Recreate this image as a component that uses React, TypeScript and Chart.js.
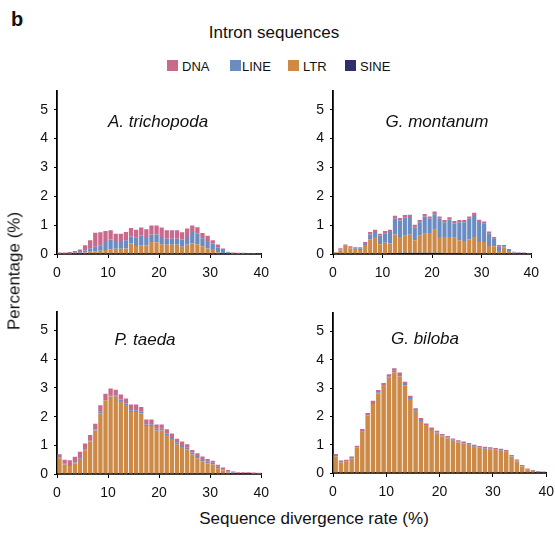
import React, { useEffect, useRef } from "react";
import { Chart, registerables } from "chart.js";

Chart.register(...registerables);

// ---------- data ----------
const BIN_STARTS = [
  0, 1, 2, 3, 4, 5, 6, 7, 8, 9, 10, 11, 12, 13, 14, 15, 16, 17, 18, 19,
  20, 21, 22, 23, 24, 25, 26, 27, 28, 29, 30, 31, 32, 33, 34, 35, 36, 37, 38, 39,
];
const X_TICKS = [0, 10, 20, 30, 40];
const Y_TICKS = [0, 1, 2, 3, 4, 5];
const SERIES_NAMES = ["DNA", "LINE", "LTR", "SINE"];

// A. trichopoda
const TRICHOPODA_DNA = [0.03,0.03,0.04,0.06,0.10,0.18,0.28,0.49,0.45,0.38, 0.32,0.28,0.28,0.28,0.29,0.26,0.28,0.27,0.31,0.31, 0.33,0.29,0.29,0.29,0.25,0.29,0.23,0.23,0.18,0.21, 0.12,0.11,0.05,0.02,0.02,0.02,0.02,0.01,0.01,0.01];
const TRICHOPODA_LINE = [0.01,0.01,0.02,0.02,0.03,0.07,0.12,0.16,0.19,0.28, 0.34,0.24,0.24,0.29,0.25,0.30,0.34,0.29,0.26,0.28, 0.25,0.21,0.21,0.21,0.25,0.27,0.40,0.37,0.28,0.23, 0.19,0.17,0.11,0.04,0.02,0.01,0.01,0.01,0.01,0.01];
const TRICHOPODA_LTR = [0.01,0.01,0.01,0.02,0.03,0.05,0.08,0.09,0.11,0.14, 0.16,0.18,0.18,0.19,0.36,0.28,0.30,0.30,0.42,0.40, 0.34,0.32,0.32,0.32,0.25,0.32,0.36,0.33,0.27,0.19, 0.17,0.05,0.03,0.02,0.01,0.01,0.01,0.01,0.01,0.00];
const TRICHOPODA_SINE = [0,0,0,0,0,0,0,0,0,0, 0,0,0,0,0,0,0,0,0,0, 0,0,0,0,0,0,0,0,0,0, 0,0,0,0,0,0,0,0,0,0];

// G. montanum
const MONTANUM_DNA = [0.02,0.04,0.03,0.04,0.03,0.03,0.04,0.08,0.08,0.07, 0.08,0.08,0.09,0.09,0.09,0.08,0.08,0.08,0.09,0.08, 0.09,0.08,0.08,0.08,0.08,0.08,0.08,0.08,0.08,0.08, 0.08,0.06,0.06,0.06,0.04,0.03,0.02,0.02,0.02,0.01];
const MONTANUM_LINE = [0.00,0.03,0.02,0.03,0.03,0.06,0.07,0.17,0.17,0.29, 0.33,0.40,0.56,0.57,0.63,0.61,0.45,0.47,0.60,0.49, 0.54,0.63,0.51,0.60,0.50,0.62,0.65,0.71,0.76,0.69, 0.63,0.44,0.26,0.15,0.04,0.04,0.02,0.01,0.01,0.01];
const MONTANUM_LTR = [0.05,0.13,0.28,0.20,0.17,0.14,0.31,0.51,0.59,0.34, 0.37,0.33,0.65,0.55,0.59,0.63,0.44,0.59,0.66,0.69, 0.80,0.55,0.56,0.56,0.53,0.45,0.43,0.49,0.59,0.42, 0.42,0.28,0.27,0.10,0.23,0.10,0.04,0.03,0.02,0.01];
const MONTANUM_SINE = [0,0,0,0,0,0,0,0,0,0, 0.02,0.03,0.03,0.04,0.04,0.04,0.04,0.04,0.04,0.04, 0.04,0.04,0.03,0.03,0.03,0.03,0.02,0.02,0,0, 0,0,0,0,0,0,0,0,0,0];

// P. taeda
const TAEDA_DNA = [0.12,0.14,0.17,0.20,0.23,0.20,0.20,0.20,0.23,0.18, 0.23,0.20,0.17,0.17,0.20,0.20,0.17,0.17,0.17,0.15, 0.15,0.14,0.12,0.12,0.12,0.11,0.09,0.09,0.09,0.08, 0.07,0.07,0.06,0.05,0.04,0.03,0.03,0.03,0.03,0.03];
const TAEDA_LINE = [0.02,0.03,0.03,0.03,0.03,0.03,0.03,0.03,0.05,0.05, 0.05,0.05,0.05,0.05,0.06,0.06,0.06,0.06,0.06,0.06, 0.06,0.06,0.07,0.07,0.07,0.07,0.07,0.08,0.08,0.07, 0.06,0.05,0.05,0.04,0.02,0.01,0.01,0.01,0.01,0.01];
const TAEDA_LTR = [0.55,0.33,0.28,0.37,0.52,0.83,1.13,1.52,2.12,2.57, 2.70,2.69,2.55,2.41,2.16,2.16,2.11,1.67,1.67,1.52, 1.52,1.36,1.22,1.04,0.94,0.86,0.68,0.55,0.44,0.37, 0.33,0.20,0.12,0.05,0.03,0.02,0.02,0.02,0.01,0.00];
const TAEDA_SINE = [0,0,0,0,0,0,0,0,0,0, 0,0,0,0,0,0,0,0,0,0, 0,0,0,0,0,0,0,0,0,0, 0,0,0,0,0,0,0,0,0,0];

// G. biloba
const BILOBA_DNA = [0.07,0.05,0.05,0.06,0.06,0.07,0.07,0.08,0.08,0.08, 0.09,0.09,0.09,0.08,0.08,0.07,0.07,0.06,0.06,0.06, 0.06,0.06,0.05,0.05,0.05,0.05,0.05,0.05,0.05,0.05, 0.05,0.05,0.05,0.05,0.05,0.04,0.04,0.03,0.03,0.02];
const BILOBA_LINE = [0.02,0.02,0.02,0.02,0.02,0.02,0.02,0.03,0.03,0.03, 0.04,0.05,0.05,0.04,0.04,0.03,0.03,0.03,0.03,0.03, 0.03,0.03,0.03,0.03,0.02,0.02,0.02,0.02,0.02,0.02, 0.02,0.02,0.02,0.02,0.02,0.01,0.01,0.01,0.01,0.01];
const BILOBA_LTR = [0.58,0.37,0.40,0.50,0.88,1.46,2.03,2.44,2.82,3.07, 3.36,3.56,3.41,3.10,2.61,2.19,1.84,1.66,1.52,1.40, 1.29,1.22,1.14,1.08,1.04,0.99,0.93,0.88,0.86,0.84, 0.81,0.79,0.74,0.57,0.41,0.23,0.11,0.07,0.03,0.02];
const BILOBA_SINE = [0,0,0,0,0,0,0,0,0,0, 0,0,0,0,0,0,0,0,0,0, 0,0,0,0,0,0,0,0,0,0, 0,0,0,0,0,0,0,0,0,0];

// ---------- styling ----------
const COLORS: Record<string, string> = {
  DNA: "#c9698b",
  LINE: "#6b8cc1",
  LTR: "#cd8a47",
  SINE: "#2e2f6b",
};
const FONT = '"Liberation Sans", Arial, Helvetica, sans-serif';

type PanelDef = {
  title: string;
  series: Record<string, number[]>;
  left: number;
  top: number;
  width: number;
  height: number;
  titleX: number;
  titleY: number;
};

const PAD_TOP = 15;
const PAD_RIGHT = 14;

const PANELS: PanelDef[] = [
  {
    title: "A. trichopoda",
    series: { DNA: TRICHOPODA_DNA, LINE: TRICHOPODA_LINE, LTR: TRICHOPODA_LTR, SINE: TRICHOPODA_SINE },
    left: 20, top: 76, width: 256, height: 208, titleX: 158, titleY: 127,
  },
  {
    title: "G. montanum",
    series: { DNA: MONTANUM_DNA, LINE: MONTANUM_LINE, LTR: MONTANUM_LTR, SINE: MONTANUM_SINE },
    left: 296, top: 76, width: 250, height: 208, titleX: 437, titleY: 127,
  },
  {
    title: "P. taeda",
    series: { DNA: TAEDA_DNA, LINE: TAEDA_LINE, LTR: TAEDA_LTR, SINE: TAEDA_SINE },
    left: 20, top: 297, width: 256, height: 207, titleX: 145, titleY: 345,
  },
  {
    title: "G. biloba",
    series: { DNA: BILOBA_DNA, LINE: BILOBA_LINE, LTR: BILOBA_LTR, SINE: BILOBA_SINE },
    left: 296, top: 298, width: 265, height: 205, titleX: 425, titleY: 344,
  },
];

function Panel({ def }: { def: PanelDef }) {
  const ref = useRef<HTMLCanvasElement | null>(null);
  useEffect(() => {
    if (!ref.current) return;
    // stacking order bottom -> top: SINE, LTR, LINE, DNA
    const order = ["SINE", "LTR", "LINE", "DNA"];
    const datasets = order.map((name) => ({
      label: name,
      data: BIN_STARTS.map((b, i) => ({ x: b + 0.5, y: def.series[name][i] })),
      backgroundColor: COLORS[name],
      borderWidth: 0,
      categoryPercentage: 1,
      barPercentage: 0.84,
      stack: "s",
    }));
    const chart = new Chart(ref.current, {
      type: "bar",
      data: { datasets } as any,
      options: {
        animation: false,
        responsive: false,
        maintainAspectRatio: false,
        layout: { padding: { top: PAD_TOP, right: PAD_RIGHT, left: 0, bottom: 0 } },
        plugins: { legend: { display: false }, tooltip: { enabled: false } },
        scales: {
          x: {
            type: "linear",
            stacked: true,
            min: 0,
            max: 40,
            offset: false,
            afterBuildTicks: (s: any) => {
              s.ticks = X_TICKS.map((v) => ({ value: v }));
            },
            grid: {
              display: true,
              drawOnChartArea: false,
              drawTicks: true,
              tickLength: 4,
              color: "#000",
              lineWidth: 1,
              offset: false,
            },
            border: { display: true, color: "#000", width: 1.8 },
            ticks: {
              font: { family: FONT, size: 14 },
              color: "#111",
              padding: 7,
              maxRotation: 0,
              autoSkip: false,
            },
            afterFit: (s: any) => {
              s.height = 30;
            },
          },
          y: {
            type: "linear",
            stacked: true,
            min: 0,
            max: 5.65,
            afterBuildTicks: (s: any) => {
              s.ticks = Y_TICKS.map((v) => ({ value: v }));
            },
            grid: {
              display: true,
              drawOnChartArea: false,
              drawTicks: true,
              tickLength: 3,
              color: "#000",
              lineWidth: 1,
            },
            border: { display: true, color: "#000", width: 1.8 },
            ticks: {
              font: { family: FONT, size: 14 },
              color: "#111",
              padding: 6,
            },
            afterFit: (s: any) => {
              s.width = 37;
            },
          },
        },
      } as any,
    });
    return () => chart.destroy();
  }, [def]);
  return (
    <canvas
      ref={ref}
      width={def.width}
      height={def.height}
      style={{ position: "absolute", left: def.left, top: def.top, width: def.width, height: def.height }}
    />
  );
}

function Txt({
  x, y, size, children, anchor = "middle", weight = "normal", italic = false,
}: {
  x: number; y: number; size: number; children: React.ReactNode;
  anchor?: "start" | "middle"; weight?: string; italic?: boolean;
}) {
  return (
    <div
      style={{
        position: "absolute",
        left: x,
        top: y - 0.8465 * size,
        fontSize: size,
        lineHeight: 1,
        fontFamily: FONT,
        fontWeight: weight as any,
        fontStyle: italic ? "italic" : "normal",
        whiteSpace: "nowrap",
        color: "#111",
        transform: anchor === "middle" ? "translateX(-50%)" : undefined,
      }}
    >
      {children}
    </div>
  );
}

const LEGEND_POS: Record<string, { sq: number; tx: number }> = {
  DNA: { sq: 167, tx: 182 },
  LINE: { sq: 230, tx: 242 },
  LTR: { sq: 288, tx: 303 },
  SINE: { sq: 345, tx: 360 },
};

export default function App() {
  return (
    <div style={{ position: "absolute", left: 0, top: 0, width: 555, height: 533, background: "#fff", overflow: "hidden" }}>
      <Txt x={11} y={26} size={20} anchor="start" weight="bold">b</Txt>
      <Txt x={274} y={38} size={17}>Intron sequences</Txt>
      {SERIES_NAMES.map((n) => (
        <React.Fragment key={n}>
          <div
            style={{
              position: "absolute",
              left: LEGEND_POS[n].sq,
              top: 60,
              width: 11,
              height: 11,
              background: COLORS[n],
            }}
          />
          <Txt x={LEGEND_POS[n].tx} y={71} size={13} anchor="start">{n}</Txt>
        </React.Fragment>
      ))}
      {PANELS.map((p) => (
        <Panel key={p.title} def={p} />
      ))}
      {PANELS.map((p) => (
        <Txt key={p.title + "t"} x={p.titleX} y={p.titleY} size={17} italic>{p.title}</Txt>
      ))}
      <div
        style={{
          position: "absolute",
          left: 14,
          top: 271,
          fontSize: 17,
          lineHeight: 1,
          fontFamily: FONT,
          whiteSpace: "nowrap",
          color: "#111",
          transform: "translate(-50%, -50%) rotate(-90deg)",
        }}
      >
        Percentage (%)
      </div>
      <Txt x={314} y={524} size={17}>Sequence divergence rate (%)</Txt>
    </div>
  );
}
